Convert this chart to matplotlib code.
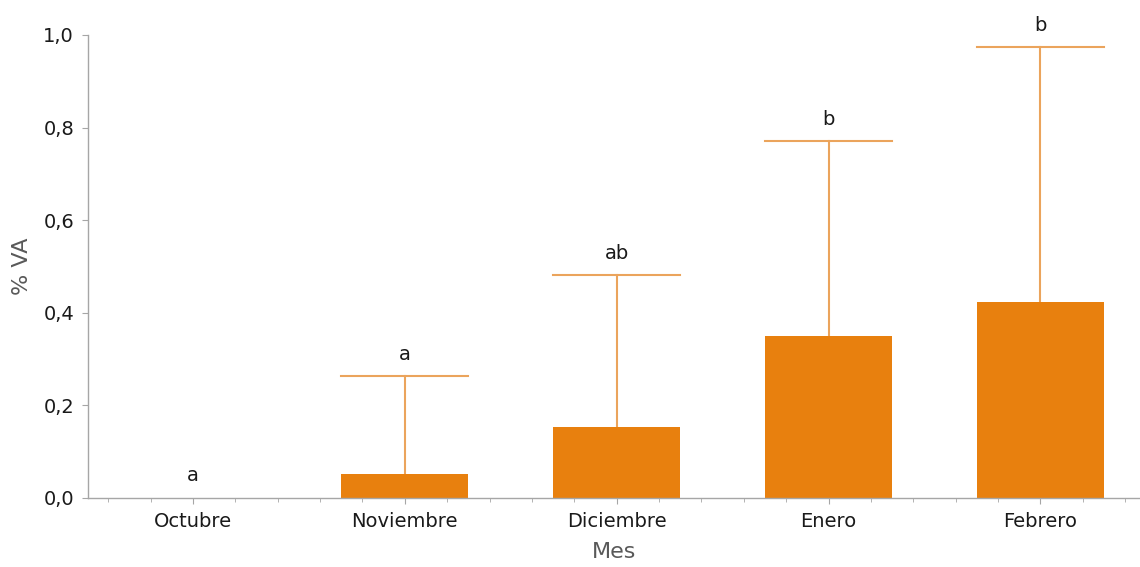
import matplotlib
matplotlib.use("Agg")
import matplotlib.pyplot as plt
import numpy as np
from matplotlib.ticker import MultipleLocator, FuncFormatter

meses = ["Octubre", "Noviembre", "Diciembre", "Enero", "Febrero"]
media = [0.0, 0.052, 0.153, 0.350, 0.423]
error_sup = [0.0, 0.211, 0.328, 0.421, 0.551]
letras = ["a", "a", "ab", "b", "b"]

bar_color = "#E8800E"
err_color = "#EBA45C"

plt.rcParams["font.family"] = "DejaVu Sans"

fig = plt.figure(figsize=(11.4, 5.67), dpi=100)
ax = fig.add_axes([0.0772, 0.1217, 0.9228, 0.8166])

x = np.arange(len(meses))
ancho = 0.6
ax.bar(x, media, width=ancho, color=bar_color, zorder=2)

# una sola rama del error, hacia arriba, con tapa del ancho de la barra
tope = np.array(media) + np.array(error_sup)
for xi, m, t in zip(x, media, tope):
    if t <= 0:
        continue
    ax.plot([xi, xi], [m, t], color=err_color, lw=1.5, zorder=1)
    ax.plot([xi - ancho / 2, xi + ancho / 2], [t, t], color=err_color, lw=1.5, zorder=1)

for xi, t, l in zip(x, tope, letras):
    ax.annotate(l, (xi, t), xytext=(0, 9), textcoords="offset points",
                ha="center", va="bottom", fontsize=14, color="#1a1a1a")

ax.set_xlim(-0.495, 4.47)
ax.set_ylim(0, 1.0)
ax.set_xticks(x)
ax.set_xticklabels(meses)
ax.xaxis.set_minor_locator(MultipleLocator(0.2))
ax.yaxis.set_major_locator(MultipleLocator(0.2))
ax.yaxis.set_major_formatter(FuncFormatter(lambda v, p: f"{v:.1f}".replace(".", ",")))

for s in ["top", "right"]:
    ax.spines[s].set_visible(False)
for s in ["left", "bottom"]:
    ax.spines[s].set_color("#a6a6a6")
    ax.spines[s].set_linewidth(1.0)

ax.tick_params(axis="both", which="major", length=4, color="#a6a6a6",
               labelsize=14, labelcolor="#1a1a1a", pad=6)
ax.tick_params(axis="x", which="minor", length=3, color="#a6a6a6")

ax.set_xlabel("Mes", fontsize=16, color="#595959", labelpad=8)
ax.set_ylabel("% VA", fontsize=16, color="#595959", labelpad=8)

fig.savefig("out.png", dpi=100)
